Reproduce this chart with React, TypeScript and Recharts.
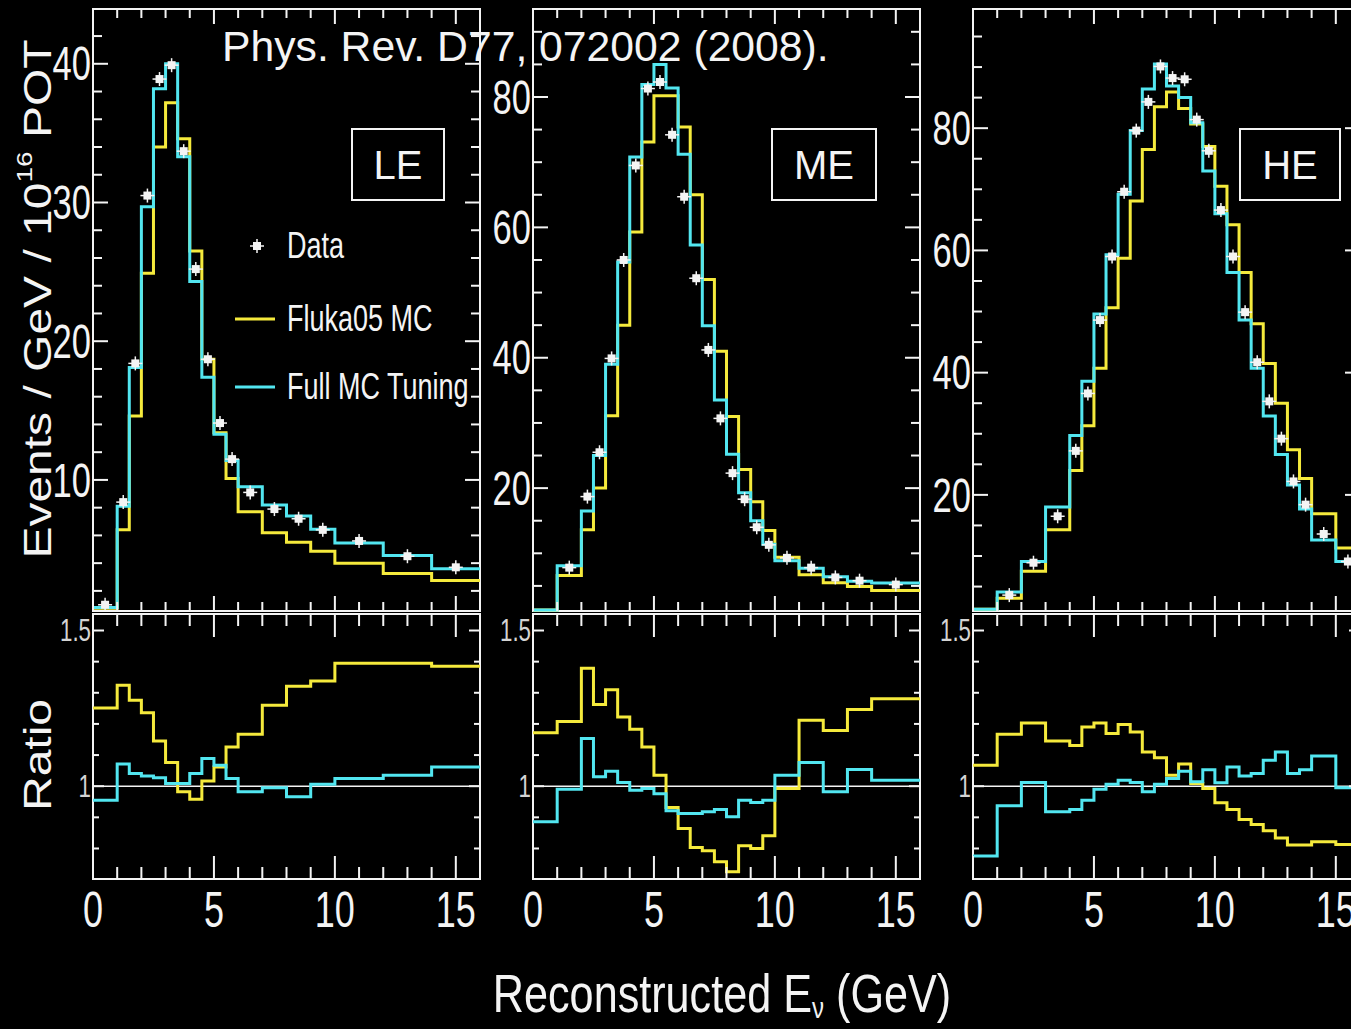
import React from "react";
import { ComposedChart, Line, Scatter, XAxis, YAxis, ReferenceArea, ReferenceLine, Legend } from "recharts";

const FONT = '"Liberation Sans", Arial, Helvetica, sans-serif';
const YELLOW = "#f5ea3c";
const CYAN = "#52e6f0";
const WHITE = "#f4f4f4";

// ---- binning (GeV) ----
const LE_EDGES = [0, 1, 1.5, 2, 2.5, 3, 3.5, 4, 4.5, 5, 5.5, 6, 7, 8, 9, 10, 12, 14, 16];
const ME_EDGES = [0, 1, 2, 2.5, 3, 3.5, 4, 4.5, 5, 5.5, 6, 6.5, 7, 7.5, 8, 8.5, 9, 9.5, 10, 11, 12, 13, 14, 16];
const HE_EDGES = [0, 1, 2, 3, 4, 4.5, 5, 5.5, 6, 6.5, 7, 7.5, 8, 8.5, 9, 9.5, 10, 10.5, 11, 11.5, 12, 12.5, 13, 13.5, 14, 15, 16];

// ---- events / GeV / 1e16 POT ----
const LE_FLUKA = [0.75, 6.4, 14.6, 24.9, 34.0, 37.2, 34.6, 26.5, 18.7, 13.4, 10.1, 7.7, 6.2, 5.5, 4.85, 4.0, 3.25, 2.75];
const LE_TUNED = [0.8, 8.1, 18.1, 29.7, 38.2, 40.0, 33.3, 24.3, 17.4, 13.3, 11.4, 9.5, 8.2, 7.4, 6.45, 5.45, 4.55, 3.6];
const LE_DATA = [1.0, 8.4, 18.4, 30.5, 38.9, 39.9, 33.7, 25.2, 18.7, 14.1, 11.5, 9.1, 7.9, 7.2, 6.4, 5.6, 4.5, 3.7];

const ME_FLUKA = [1.3, 6.6, 13.6, 20.0, 31.1, 45.0, 59.3, 73.1, 80.2, 80.2, 75.4, 65.0, 52.0, 41.0, 31.0, 22.85, 17.9, 13.5, 9.4, 6.7, 5.5, 4.9, 4.3];
const ME_TUNED = [1.3, 8.1, 16.5, 25.0, 39.0, 54.7, 70.8, 81.9, 85.0, 81.4, 71.2, 57.3, 44.9, 33.5, 25.2, 19.3, 15.0, 11.4, 8.85, 7.7, 6.4, 5.7, 5.45];
const ME_DATA = [null, 7.8, 18.7, 25.5, 39.9, 55.0, 69.5, 81.3, 82.3, 74.2, 64.7, 52.2, 41.2, 30.7, 22.3, 18.3, 14.0, 11.3, 9.3, 7.8, 6.3, 5.8, 5.2];

const HE_FLUKA = [1.3, 3.1, 7.5, 14.3, 24.0, 31.3, 40.7, 50.6, 58.7, 68.1, 76.5, 83.5, 85.9, 83.2, 80.7, 77.0, 70.5, 64.2, 56.4, 48.0, 41.5, 35.0, 27.4, 22.7, 16.9, 11.3];
const HE_TUNED = [1.3, 4.1, 9.1, 18.0, 29.7, 38.6, 49.6, 59.3, 69.2, 79.6, 86.4, 90.5, 86.9, 85.0, 80.9, 73.0, 66.0, 56.4, 48.6, 40.7, 32.9, 26.6, 21.6, 17.7, 12.6, 9.1];
const HE_DATA = [null, 3.6, 8.9, 16.5, 27.2, 36.6, 48.6, 59.0, 69.6, 79.6, 84.3, 90.1, 88.2, 88.0, 81.4, 76.3, 66.6, 59.0, 49.9, 41.7, 35.3, 29.2, 22.2, 18.4, 13.6, 9.1];

// ---- data / MC ratios ----
const LE_RATIO_FLUKA = [1.251, 1.324, 1.276, 1.236, 1.145, 1.076, 0.982, 0.958, 1.017, 1.062, 1.126, 1.167, 1.26, 1.321, 1.338, 1.395, 1.395, 1.385];
const LE_RATIO_TUNED = [0.955, 1.071, 1.041, 1.033, 1.027, 1.009, 1.009, 1.041, 1.089, 1.067, 1.025, 0.982, 0.995, 0.966, 1.006, 1.025, 1.035, 1.062];
const ME_RATIO_FLUKA = [1.172, 1.208, 1.379, 1.262, 1.31, 1.222, 1.183, 1.126, 1.035, 0.932, 0.864, 0.803, 0.793, 0.757, 0.725, 0.809, 0.8, 0.841, 0.993, 1.212, 1.179, 1.246, 1.281];
const ME_RATIO_TUNED = [0.886, 0.99, 1.153, 1.03, 1.048, 1.012, 0.987, 0.993, 0.976, 0.921, 0.912, 0.912, 0.918, 0.925, 0.902, 0.955, 0.948, 0.955, 1.035, 1.076, 0.982, 1.054, 1.019];
const HE_RATIO_FLUKA = [1.067, 1.167, 1.203, 1.145, 1.131, 1.19, 1.203, 1.169, 1.198, 1.174, 1.11, 1.091, 1.035, 1.071, 1.009, 0.993, 0.947, 0.925, 0.893, 0.877, 0.857, 0.834, 0.811, 0.811, 0.822, 0.813];
const HE_RATIO_TUNED = [0.776, 0.937, 1.012, 0.918, 0.925, 0.955, 0.99, 1.006, 1.019, 1.012, 0.982, 1.006, 1.025, 1.048, 1.014, 1.053, 1.011, 1.062, 1.033, 1.041, 1.083, 1.11, 1.041, 1.053, 1.097, 0.995];

// ---- axis ticks ----
const X_TICKS = [0, 1, 2, 3, 4, 5, 6, 7, 8, 9, 10, 11, 12, 13, 14, 15, 16];
const LE_Y_TICKS = [2, 4, 6, 8, 10, 12, 14, 16, 18, 20, 22, 24, 26, 28, 30, 32, 34, 36, 38, 40, 42];
const ME_Y_TICKS = [5, 10, 15, 20, 25, 30, 35, 40, 45, 50, 55, 60, 65, 70, 75, 80, 85, 90];
const HE_Y_TICKS = [5, 10, 15, 20, 25, 30, 35, 40, 45, 50, 55, 60, 65, 70, 75, 80, 85, 90, 95];
const RATIO_TICKS = [0.8, 0.9, 1, 1.1, 1.2, 1.3, 1.4, 1.5];

// ---- layout ----
const PLOT_W = 387;
const AXIS_W = 70;
const MT = 6;
const MR = 4;
const TOP_Y = 9;
const TOP_H = 602;
const RAT_Y = 614;
const RAT_H = 265;
const COL_X = [93, 533, 972.5];

type Pt = { x: number; y: number };

// histogram as stepAfter polyline: one point per low edge, closing point at the last edge
function steps(edges: number[], vals: number[]): Pt[] {
  const pts = vals.map((v, i) => ({ x: edges[i], y: v }));
  pts.push({ x: edges[edges.length - 1], y: vals[vals.length - 1] });
  return pts;
}

function centers(edges: number[], vals: (number | null)[]): Pt[] {
  const out: Pt[] = [];
  vals.forEach((v, i) => {
    if (v != null) out.push({ x: (edges[i] + edges[i + 1]) / 2, y: v });
  });
  return out;
}

const DataMarker = (props: any) => {
  const { cx, cy } = props;
  return (
    <g>
      <line x1={cx - 7} x2={cx + 7} y1={cy} y2={cy} stroke={WHITE} strokeWidth={1.5} />
      <line x1={cx} x2={cx} y1={cy - 7} y2={cy + 7} stroke={WHITE} strokeWidth={1.5} />
      <rect x={cx - 4} y={cy - 4} width={8} height={8} fill={WHITE} />
    </g>
  );
};

function makeXTick(h: number, len: [number, number], labels: boolean) {
  return (props: any) => {
    const { x, y, payload } = props;
    const v = Number(payload.value);
    const major = v % 5 === 0;
    const l = major ? len[0] : len[1];
    return (
      <g>
        <line x1={x} x2={x} y1={y} y2={y - l} stroke={WHITE} strokeWidth={2} />
        <line x1={x} x2={x} y1={y - h} y2={y - h + l} stroke={WHITE} strokeWidth={2} />
        {labels && major ? (
          <text
            transform={`translate(${x} ${y + 31}) scale(0.72 1)`}
            textAnchor="middle"
            dominantBaseline="central"
            fill={WHITE}
            fontSize={50}
            fontFamily={FONT}
          >
            {v}
          </text>
        ) : null}
      </g>
    );
  };
}

function makeYTick(isMajor: (v: number) => boolean, len: [number, number], font: number, color: string) {
  return (props: any) => {
    const { x, y, payload } = props;
    const v = Number(payload.value);
    const major = isMajor(v);
    const l = major ? len[0] : len[1];
    return (
      <g>
        <line x1={x} x2={x + l} y1={y} y2={y} stroke={WHITE} strokeWidth={2} />
        <line x1={x + PLOT_W} x2={x + PLOT_W - l} y1={y} y2={y} stroke={WHITE} strokeWidth={2} />
        {major ? (
          <text
            transform={`translate(${x - 2} ${y}) scale(0.72 1)`}
            textAnchor="end"
            dominantBaseline="central"
            fill={color}
            fontSize={font}
            fontFamily={FONT}
          >
            {String(v)}
          </text>
        ) : null}
      </g>
    );
  };
}

const LegendBox = () => (
  <svg width={290} height={200}>
    <DataMarker cx={57} cy={31} />
    <line x1={35} x2={75} y1={104} y2={104} stroke={YELLOW} strokeWidth={3} />
    <line x1={35} x2={75} y1={172} y2={172} stroke={CYAN} strokeWidth={3} />
    {[
      ["Data", 31],
      ["Fluka05 MC", 104],
      ["Full MC Tuning", 172],
    ].map(([t, y]) => (
      <text
        key={t as string}
        transform={`translate(87 ${y}) scale(0.75 1)`}
        dominantBaseline="central"
        fill={WHITE}
        fontSize={36}
        fontFamily={FONT}
      >
        {t}
      </text>
    ))}
  </svg>
);

type PanelProps = {
  x0: number;
  y0: number;
  h: number;
  domain: [number, number];
  yTicks: number[];
  isMajorY: (v: number) => boolean;
  yFont: number;
  yColor: string;
  xLen: [number, number];
  yLen: [number, number];
  edges: number[];
  fluka: number[];
  tuned: number[];
  data?: (number | null)[];
  xLabels?: boolean;
  unity?: boolean;
  legend?: boolean;
};

function Panel(p: PanelProps) {
  const bottom = p.xLabels ? 72 : 4;
  const W = AXIS_W + PLOT_W + MR;
  const H = MT + p.h + bottom;
  return (
    <div style={{ position: "absolute", left: p.x0 - AXIS_W, top: p.y0 - MT }}>
      <ComposedChart width={W} height={H} margin={{ top: MT, right: MR, bottom: 0, left: 0 }}>
        <XAxis
          xAxisId="x"
          dataKey="x"
          type="number"
          domain={[0, 16]}
          ticks={X_TICKS}
          interval={0}
          tickSize={0}
          tickMargin={0}
          height={bottom}
          axisLine={false}
          tick={makeXTick(p.h, p.xLen, !!p.xLabels)}
        />
        <YAxis
          yAxisId="y"
          type="number"
          domain={p.domain}
          ticks={p.yTicks}
          interval={0}
          tickSize={0}
          tickMargin={0}
          width={AXIS_W}
          axisLine={false}
          tick={makeYTick(p.isMajorY, p.yLen, p.yFont, p.yColor)}
        />
        <ReferenceArea
          xAxisId="x"
          yAxisId="y"
          x1={0}
          x2={16}
          y1={p.domain[0]}
          y2={p.domain[1]}
          fill="none"
          fillOpacity={0}
          stroke={WHITE}
          strokeWidth={2}
          ifOverflow="visible"
        />
        {p.unity ? <ReferenceLine xAxisId="x" yAxisId="y" y={1} stroke={WHITE} strokeWidth={1.5} /> : null}
        <Line
          xAxisId="x"
          yAxisId="y"
          data={steps(p.edges, p.fluka)}
          dataKey="y"
          name="Fluka05 MC"
          type="stepAfter"
          stroke={YELLOW}
          strokeWidth={3}
          dot={false}
          isAnimationActive={false}
        />
        <Line
          xAxisId="x"
          yAxisId="y"
          data={steps(p.edges, p.tuned)}
          dataKey="y"
          name="Full MC Tuning"
          type="stepAfter"
          stroke={CYAN}
          strokeWidth={3}
          dot={false}
          isAnimationActive={false}
        />
        {p.data ? (
          <Scatter
            xAxisId="x"
            yAxisId="y"
            data={centers(p.edges, p.data)}
            dataKey="y"
            name="Data"
            fill={WHITE}
            shape={DataMarker}
            isAnimationActive={false}
          />
        ) : null}
        {p.legend ? (
          <Legend
            layout="vertical"
            align="center"
            verticalAlign="middle"
            wrapperStyle={{ left: 177, top: 212, width: 290, height: 200 }}
            content={LegendBox}
          />
        ) : null}
      </ComposedChart>
    </div>
  );
}

const major10 = (v: number) => v % 10 === 0;
const major20 = (v: number) => v % 20 === 0;
const majorRatio = (v: number) => Math.abs(v - 1) < 1e-9 || Math.abs(v - 1.5) < 1e-9;

const TOP = { y0: TOP_Y, h: TOP_H, yFont: 48, yColor: WHITE, xLen: [15, 9] as [number, number], yLen: [15, 9] as [number, number] };
const RAT = {
  y0: RAT_Y,
  h: RAT_H,
  domain: [0.702, 1.553] as [number, number],
  yTicks: RATIO_TICKS,
  isMajorY: majorRatio,
  yFont: 31,
  yColor: "#d4d4d4",
  xLen: [23, 12] as [number, number],
  yLen: [11, 6] as [number, number],
  xLabels: true,
  unity: true,
};

const BOXES = [
  { label: "LE", x: 352, w: 92 },
  { label: "ME", x: 772, w: 104 },
  { label: "HE", x: 1240, w: 100 },
];

function Titles() {
  return (
    <svg width={1351} height={1029} style={{ position: "absolute", left: 0, top: 0, pointerEvents: "none" }}>
      <text
        transform="translate(37 299) scale(0.82 1) rotate(-90)"
        textAnchor="middle"
        dominantBaseline="central"
        fill={WHITE}
        fontSize={48}
        fontFamily={FONT}
      >
        Events / GeV / 10
        <tspan dy={-16} fontSize={28}>
          16
        </tspan>
        <tspan dy={16}> POT</tspan>
      </text>
      <text
        transform="translate(37 755) scale(0.82 1) rotate(-90)"
        textAnchor="middle"
        dominantBaseline="central"
        fill={WHITE}
        fontSize={48}
        fontFamily={FONT}
      >
        Ratio
      </text>
      <text
        transform="translate(722 993) scale(0.8 1)"
        textAnchor="middle"
        dominantBaseline="central"
        fill={WHITE}
        fontSize={54}
        fontFamily={FONT}
      >
        Reconstructed E
        <tspan dy={14} fontSize={30}>
          ν
        </tspan>
        <tspan dy={-14}> (GeV)</tspan>
      </text>
      {BOXES.map((b) => (
        <g key={b.label}>
          <rect x={b.x} y={129} width={b.w} height={71} fill="#000" stroke={WHITE} strokeWidth={2} />
          <text x={b.x + b.w / 2} y={165} textAnchor="middle" dominantBaseline="central" fill={WHITE} fontSize={40} fontFamily={FONT}>
            {b.label}
          </text>
        </g>
      ))}
      <text x={222} y={61} fill={WHITE} fontSize={42.7} fontFamily={FONT}>
        Phys. Rev. D77, 072002 (2008).
      </text>
    </svg>
  );
}

export default function App() {
  return (
    <div
      style={{
        position: "fixed",
        left: 0,
        top: 0,
        width: 1351,
        height: 1029,
        background: "#000",
        overflow: "hidden",
      }}
    >
      <Panel {...TOP} x0={COL_X[0]} domain={[0.55, 43.95]} yTicks={LE_Y_TICKS} isMajorY={major10}
        edges={LE_EDGES} fluka={LE_FLUKA} tuned={LE_TUNED} data={LE_DATA} legend />
      <Panel {...TOP} x0={COL_X[1]} domain={[1.15, 93.5]} yTicks={ME_Y_TICKS} isMajorY={major20}
        edges={ME_EDGES} fluka={ME_FLUKA} tuned={ME_TUNED} data={ME_DATA} />
      <Panel {...TOP} x0={COL_X[2]} domain={[1.0, 99.5]} yTicks={HE_Y_TICKS} isMajorY={major20}
        edges={HE_EDGES} fluka={HE_FLUKA} tuned={HE_TUNED} data={HE_DATA} />
      <Panel {...RAT} x0={COL_X[0]} edges={LE_EDGES} fluka={LE_RATIO_FLUKA} tuned={LE_RATIO_TUNED} />
      <Panel {...RAT} x0={COL_X[1]} edges={ME_EDGES} fluka={ME_RATIO_FLUKA} tuned={ME_RATIO_TUNED} />
      <Panel {...RAT} x0={COL_X[2]} edges={HE_EDGES} fluka={HE_RATIO_FLUKA} tuned={HE_RATIO_TUNED} />
      <Titles />
    </div>
  );
}
